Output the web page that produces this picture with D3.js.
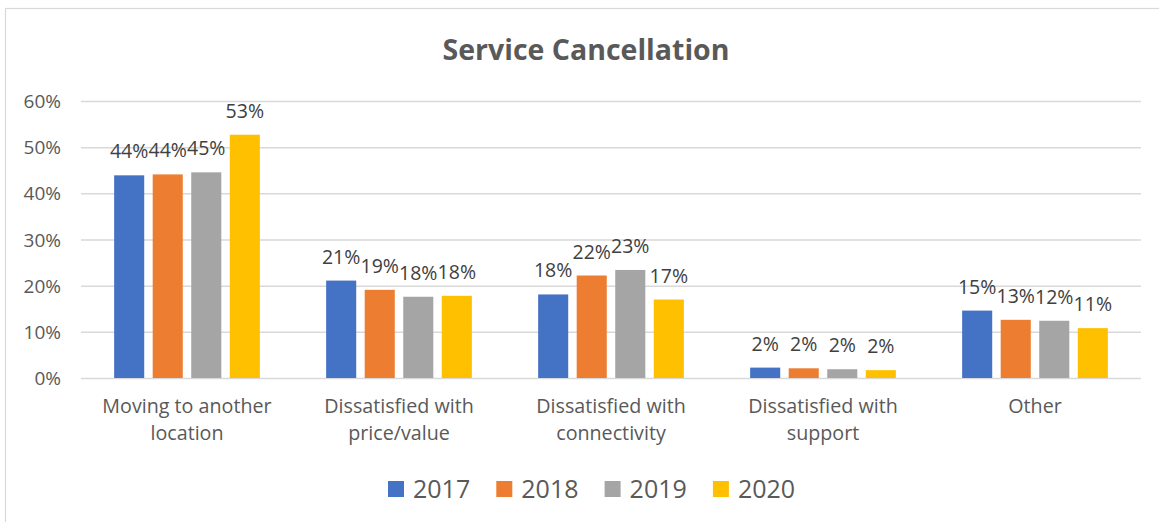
<!DOCTYPE html>
<html>
<head>
<meta charset="utf-8">
<script src="https://cdn.jsdelivr.net/npm/d3@7"></script>
<style>
  body { margin: 0; background: #fff; }
  text { font-family: "Open Sans", sans-serif; fill: #595959; }
</style>
</head>
<body>
<div id="chart-area"></div>
<script>
// data
var categories = ["Moving to another location", "Dissatisfied with price/value",
  "Dissatisfied with connectivity", "Dissatisfied with support", "Other"]
var years = ["2017", "2018", "2019", "2020"]
var values2017 = [0.439, 0.211, 0.181, 0.0225, 0.146]
var values2018 = [0.441, 0.191, 0.222, 0.021, 0.126]
var values2019 = [0.4455, 0.176, 0.234, 0.019, 0.124]
var values2020 = [0.527, 0.178, 0.170, 0.017, 0.108]
var seriesValues = [values2017, values2018, values2019, values2020]
var yTicks = [0, 0.1, 0.2, 0.3, 0.4, 0.5, 0.6]
var colors = ["#4472C4", "#ED7D31", "#A5A5A5", "#FFC000"]

var width = 1159
var height = 522
var plot = {left: 81, right: 1141, top: 101, bottom: 378}

var svg = d3.select("#chart-area").append("svg")
  .attr("width", width)
  .attr("height", height)

// chart border
svg.append("rect")
  .attr("x", 5.5).attr("y", 8.5)
  .attr("width", width + 10).attr("height", height + 10)
  .attr("fill", "none")
  .attr("stroke", "#D9D9D9")
  .attr("stroke-width", 1.2)

svg.append("text")
  .attr("x", 586)
  .attr("y", 60)
  .attr("text-anchor", "middle")
  .attr("font-size", "28.5px")
  .attr("font-weight", "bold")
  .text("Service Cancellation")

var x0 = d3.scaleBand()
  .domain(categories)
  .range([plot.left, plot.right])

var x1 = d3.scaleBand()
  .domain(years)
  .range([0, x0.bandwidth()])
  .paddingInner(0.22)
  .paddingOuter(0.86)

var y = d3.scaleLinear()
  .domain([0, 0.6])
  .range([plot.bottom, plot.top])

// gridlines
var yAxisCall = d3.axisLeft(y)
  .tickValues(yTicks)
  .tickSize(-(plot.right - plot.left))
  .tickPadding(20)
  .tickFormat(d3.format(".0%"))

var yAxisGroup = svg.append("g")
  .attr("transform", "translate(" + plot.left + ",0)")
  .call(yAxisCall)
yAxisGroup.select(".domain").remove()
yAxisGroup.selectAll("line").attr("stroke", "#D9D9D9").attr("stroke-width", 1.5)
yAxisGroup.selectAll("text")
  .attr("font-size", "19px")
  .attr("font-family", "'Open Sans', sans-serif")
  .attr("fill", "#595959")
  .attr("dy", "0.35em")

// bars
var rows = []
categories.forEach((c, ci) => {
  years.forEach((yr, si) => {
    rows.push({category: c, year: yr, value: seriesValues[si][ci], color: colors[si]})
  })
})

var g = svg.append("g")

g.selectAll("rect.bar")
  .data(rows)
  .enter().append("rect")
  .attr("class", "bar")
  .attr("x", d => x0(d.category) + x1(d.year))
  .attr("y", d => y(d.value))
  .attr("width", x1.bandwidth())
  .attr("height", d => y(0) - y(d.value))
  .attr("fill", d => d.color)

g.selectAll("text.label")
  .data(rows)
  .enter().append("text")
  .attr("class", "label")
  .attr("x", d => x0(d.category) + x1(d.year) + x1.bandwidth() / 2)
  .attr("y", d => y(d.value) - 17)
  .attr("text-anchor", "middle")
  .attr("font-size", "19.5px")
  .style("fill", "#404040")
  .text(d => d3.format(".0%")(d.value))

// category labels, wrapped
categories.forEach(c => {
  var cx = x0(c) + x0.bandwidth() / 2
  var t = svg.append("text")
    .attr("x", cx)
    .attr("y", 413)
    .attr("text-anchor", "middle")
    .attr("font-size", "19.7px")
  var words = c.split(" ")
  var line = []
  var tspan = t.append("tspan").attr("x", cx).attr("dy", 0)
  words.forEach(w => {
    line.push(w)
    tspan.text(line.join(" "))
    if (tspan.node().getComputedTextLength() > 185 && line.length > 1) {
      line.pop()
      tspan.text(line.join(" "))
      line = [w]
      tspan = t.append("tspan").attr("x", cx).attr("dy", 27).text(w)
    }
  })
})

// legend
var legend = svg.append("g")
  .attr("transform", "translate(388, 481)")

years.forEach((yr, i) => {
  var row = legend.append("g")
    .attr("transform", "translate(" + (i * 108.3) + ",0)")
  row.append("rect")
    .attr("width", 16)
    .attr("height", 16)
    .attr("fill", colors[i])
  row.append("text")
    .attr("x", 25)
    .attr("y", 16.5)
    .attr("font-size", "25px")
    .text(yr)
})
</script>
</body>
</html>
